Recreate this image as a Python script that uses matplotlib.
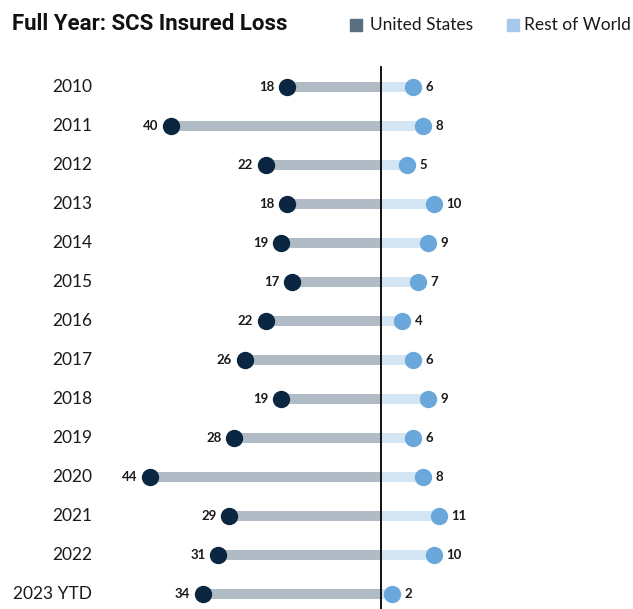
import matplotlib
matplotlib.use("Agg")
import matplotlib.pyplot as plt
from matplotlib.patches import Rectangle

years = ["2010", "2011", "2012", "2013", "2014", "2015", "2016", "2017",
         "2018", "2019", "2020", "2021", "2022", "2023 YTD"]
us_loss = [18, 40, 22, 18, 19, 17, 22, 26, 19, 28, 44, 29, 31, 34]
row_loss = [6, 8, 5, 10, 9, 7, 4, 6, 9, 6, 8, 11, 10, 2]

W, H = 633, 609
fig = plt.figure(figsize=(W / 100, H / 100), dpi=100)
ax = fig.add_axes([0, 0, 1, 1])

# 5.25 px per unit, zero line at x=381 px; rows every 39 px starting at 87 px
ppu = 5.25
x0 = 381
ax.set_xlim(-x0 / ppu, (W - x0) / ppu)
ax.set_ylim((H - 87) / 39, -87 / 39)
ax.axis("off")

US_DOT, US_BAR = "#0b2640", "#b0bbc5"
RW_DOT, RW_BAR = "#6aa8dc", "#d3e4f3"

ys = list(range(len(years)))
neg_us = [-v for v in us_loss]
ax.barh(ys, neg_us, height=0.27, color=US_BAR, zorder=1)
ax.barh(ys, row_loss, height=0.27, color=RW_BAR, zorder=1)
ax.plot([0, 0], [-0.51, (H - 87) / 39 + 1], color="black", lw=1.3, zorder=2)
ax.scatter(neg_us, ys, s=12.5 ** 2, color=US_DOT, zorder=3, linewidths=0)
ax.scatter(row_loss, ys, s=12.5 ** 2, color=RW_DOT, zorder=3, linewidths=0)

off = 12.5 / ppu
for y, lab, u, r in zip(ys, years, us_loss, row_loss):
    ax.text((92 - x0) / ppu, y, lab, ha="right", va="center", fontsize=12.5,
            family="Lato", color="#1a1a1a")
    ax.text(-u - off, y, str(u), ha="right", va="center", fontsize=9.5,
            family="Lato", fontweight="bold", color="#1a1a1a")
    ax.text(r + off, y, str(r), ha="left", va="center", fontsize=9.5,
            family="Lato", fontweight="bold", color="#1a1a1a")

# Title and legend
fig.text(12 / W, 1 - 24 / H, "Full Year: SCS Insured Loss", ha="left", va="center",
         fontsize=16, family="Roboto", fontweight="bold", color="#111111")
fig.patches.append(Rectangle((350 / W, 1 - 31 / H), 12 / W, 12 / H,
                             transform=fig.transFigure, color="#5a6f80"))
fig.text(473 / W, 1 - 25 / H, "United States", ha="right", va="center",
         fontsize=12.5, family="Lato", color="#1a1a1a")
fig.patches.append(Rectangle((507 / W, 1 - 31 / H), 12 / W, 12 / H,
                             transform=fig.transFigure, color="#a4c9ea"))
fig.text(631 / W, 1 - 25 / H, "Rest of World", ha="right", va="center",
         fontsize=12.5, family="Lato", color="#1a1a1a")

fig.savefig("out.png", dpi=100)
